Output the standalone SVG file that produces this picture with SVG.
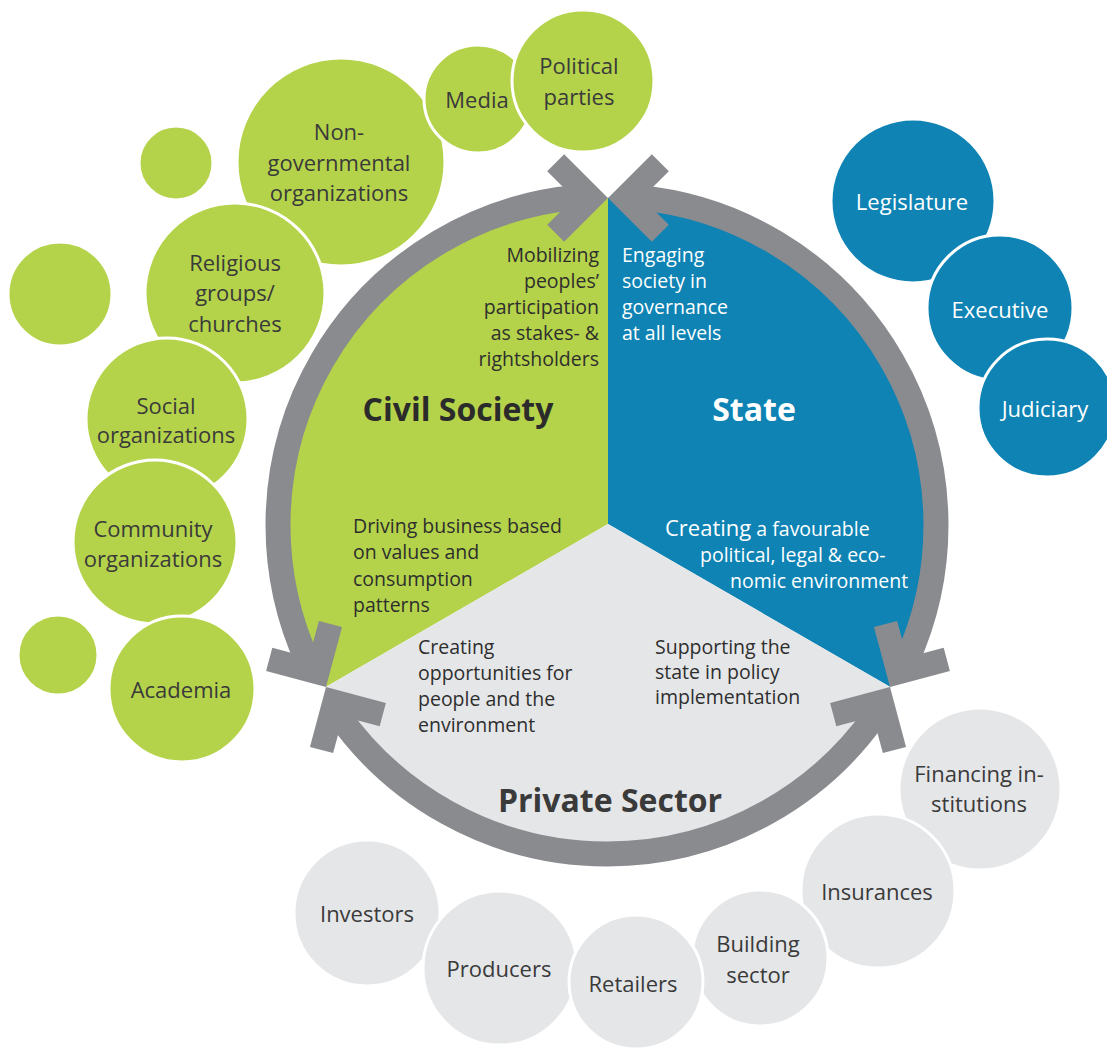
<svg xmlns="http://www.w3.org/2000/svg" width="1107" height="1049" viewBox="0 0 1107 1049">
<style>
.g{fill:#b4d34a;stroke:#fff;stroke-width:3}
.b{fill:#0e83b4;stroke:#fff;stroke-width:3}
.l{fill:#e5e6e8;stroke:#fff;stroke-width:3}
.t{font-family:"Open Sans","Noto Sans",sans-serif;font-size:22px;fill:#3a3a3a;text-anchor:middle}
.in{font-family:"Open Sans","Noto Sans",sans-serif;font-size:19.5px;fill:#2e2e2e}
.h{font-family:"Open Sans","Noto Sans",sans-serif;font-weight:bold;font-size:32px;text-anchor:middle;fill:#2b2b2b}
.w{fill:#fff}
.ring{fill:none;stroke:#8a8b8f;stroke-width:25}
.chev{fill:#8a8b8f}
</style>
<rect width="1107" height="1049" fill="#fff"/>

<!-- green satellite circles -->
<g id="green-small-1"><circle class="g" cx="176" cy="163" r="37"/></g>
<g id="green-small-2"><circle class="g" cx="60" cy="294" r="52"/></g>
<g id="ngo"><circle class="g" cx="341" cy="162" r="104"/>
<text class="t" x="339" y="140">Non-</text><text class="t" x="339" y="171">governmental</text><text class="t" x="339" y="201">organizations</text></g>
<g id="media"><circle class="g" cx="478" cy="99" r="54"/><text class="t" x="477" y="108">Media</text></g>
<g id="political-parties"><circle class="g" cx="583" cy="81" r="71"/>
<text class="t" x="579" y="74">Political</text><text class="t" x="579" y="105">parties</text></g>
<g id="religious"><circle class="g" cx="235" cy="293" r="90"/>
<text class="t" x="235" y="271">Religious</text><text class="t" x="235" y="301">groups/</text><text class="t" x="235" y="332">churches</text></g>
<g id="social"><circle class="g" cx="167" cy="419" r="81"/>
<text class="t" x="166" y="414">Social</text><text class="t" x="166" y="443">organizations</text></g>
<g id="community"><circle class="g" cx="155" cy="542" r="82"/>
<text class="t" x="153" y="537">Community</text><text class="t" x="153" y="567">organizations</text></g>
<g id="green-small-3"><circle class="g" cx="58" cy="655" r="40"/></g>
<g id="academia"><circle class="g" cx="182" cy="689" r="73"/><text class="t" x="181" y="698">Academia</text></g>

<!-- blue satellite circles -->
<g id="legislature"><circle class="b" cx="913" cy="201" r="82"/><text class="t w" x="912" y="210">Legislature</text></g>
<g id="executive"><circle class="b" cx="1000" cy="308" r="73"/><text class="t w" x="1000" y="318">Executive</text></g>
<g id="judiciary"><circle class="b" cx="1047" cy="408" r="69"/><text class="t w" x="1045" y="417">Judiciary</text></g>

<!-- grey satellite circles -->
<g id="financing"><circle class="l" cx="980" cy="789" r="81"/>
<text class="t" x="979" y="782">Financing in-</text><text class="t" x="979" y="812">stitutions</text></g>
<g id="insurances"><circle class="l" cx="878" cy="891" r="77"/><text class="t" x="877" y="900">Insurances</text></g>
<g id="building"><circle class="l" cx="760" cy="958" r="68"/>
<text class="t" x="758" y="952">Building</text><text class="t" x="758" y="983">sector</text></g>
<g id="investors"><circle class="l" cx="367" cy="913" r="73"/><text class="t" x="367" y="922">Investors</text></g>
<g id="producers"><circle class="l" cx="500" cy="968" r="77"/><text class="t" x="499" y="977">Producers</text></g>
<g id="retailers"><circle class="l" cx="636" cy="982" r="67"/><text class="t" x="633" y="992">Retailers</text></g>

<!-- central pie -->
<g id="civil-society">
<path d="M608 524 L325.7 687 A326 326 0 0 1 608 198 Z" fill="#b4d34a"/>
</g>
<g id="state">
<path d="M608 524 L608 198 A326 326 0 0 1 890.3 687 Z" fill="#0e83b4"/>
</g>
<g id="private-sector">
<path d="M608 524 L890.3 687 A326 326 0 0 1 325.7 687 Z" fill="#e5e6e8"/>
</g>

<!-- connectors: ring arcs with arrowheads -->
<g id="connectors">
<path class="ring" d="M308.2 662.7 A329 329 0 0 1 578.1 197.3"/>
<path class="ring" d="M638 197.5 A329 329 0 0 1 906.2 661.8"/>
<path class="ring" d="M876.5 713.7 A329 329 0 0 1 338.1 714.6"/>
<polygon class="chev" points="608,198 564.16,154.16 547.19,171.13 574.06,198 547.19,224.87 564.16,241.84"/>
<polygon class="chev" points="608,198 651.84,241.84 668.81,224.87 641.94,198 668.81,171.13 651.84,154.16"/>
<polygon class="chev" points="326,687 342.05,627.11 318.87,620.9 309.03,657.61 272.32,647.77 266.11,670.95"/>
<polygon class="chev" points="326,687 309.95,746.89 333.13,753.1 342.97,716.39 379.68,726.23 385.89,703.05"/>
<polygon class="chev" points="890,687 949.89,670.95 943.68,647.77 906.97,657.61 897.13,620.9 873.95,627.11"/>
<polygon class="chev" points="890,687 830.11,703.05 836.32,726.23 873.03,716.39 882.87,753.1 906.05,746.89"/>
</g>

<!-- labels inside the pie -->
<g id="pie-labels">
<text class="h" x="458" y="421">Civil Society</text>
<text class="h" x="754" y="421" style="fill:#fff">State</text>
<text class="h" x="610" y="812" style="fill:#3a3a3a">Private Sector</text>

<g class="in" text-anchor="end">
<text x="599" y="262">Mobilizing</text>
<text x="599" y="288">peoples’</text>
<text x="599" y="314">participation</text>
<text x="599" y="340">as stakes- &amp;</text>
<text x="599" y="366">rightsholders</text>
</g>
<g class="in" style="fill:#fff">
<text x="622" y="262">Engaging</text>
<text x="622" y="288">society in</text>
<text x="622" y="314">governance</text>
<text x="622" y="340">at all levels</text>
</g>
<g class="in">
<text x="353" y="533">Driving business based</text>
<text x="353" y="559">on values and</text>
<text x="353" y="586">consumption</text>
<text x="353" y="612">patterns</text>
</g>
<g class="in" style="fill:#fff">
<text x="665" y="536"><tspan font-size="22">Creating</tspan> a favourable</text>
<text x="700" y="562">political, legal &amp; eco-</text>
<text x="730" y="588">nomic environment</text>
</g>
<g class="in">
<text x="418" y="654">Creating</text>
<text x="418" y="680">opportunities for</text>
<text x="418" y="706">people and the</text>
<text x="418" y="732">environment</text>
</g>
<g class="in">
<text x="655" y="654">Supporting the</text>
<text x="655" y="679">state in policy</text>
<text x="655" y="704">implementation</text>
</g>
</g>
</svg>
